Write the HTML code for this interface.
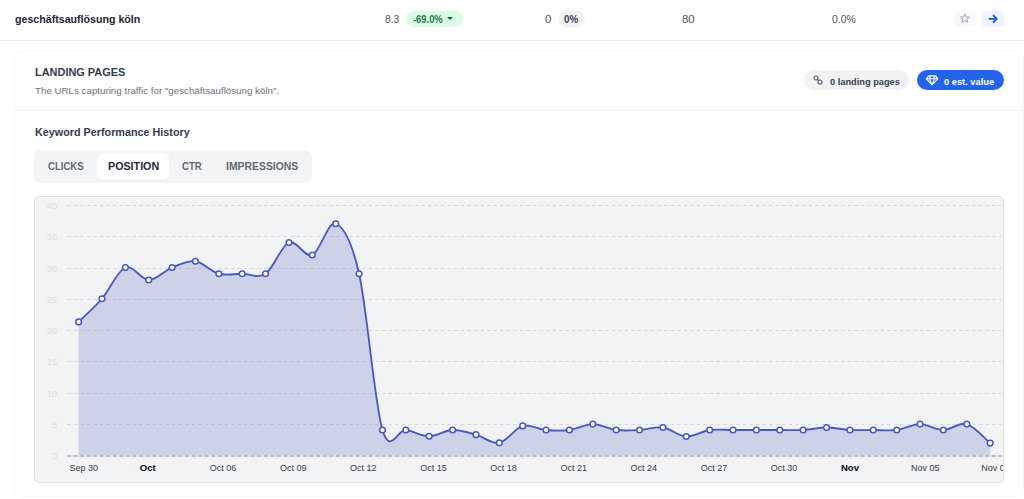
<!DOCTYPE html>
<html><head><meta charset="utf-8">
<style>
*{box-sizing:border-box;margin:0;padding:0}
html,body{width:1024px;height:499px;overflow:hidden;background:#fff}
body{font-family:"Liberation Sans",Arial,sans-serif;position:relative}
.t{position:absolute;white-space:nowrap;transform-origin:0 0}
.row{position:absolute;left:0;top:0;width:1024px;height:41px;border-bottom:1px solid #e8eaee}
.pill{position:absolute;height:16px;border-radius:8px}
.green{left:406px;top:11px;width:57px;background:#dcfce7}
.gray0{left:558px;top:11px;width:27px;background:#f1f2f4}
.tri{position:absolute;left:447px;top:17px;width:0;height:0;border-left:3px solid transparent;border-right:3px solid transparent;border-top:3.5px solid #166534}
.btn{position:absolute;top:11px;width:22px;height:16px;border-radius:4px}
.star{left:954px;background:#f8f9fb}
.arrow{left:982px;background:#edf3ff}
.card{position:absolute;left:14px;top:50px;width:1010px;height:447px;border:1px solid #f6f7f8;border-radius:9px;background:#fff}
.sep{position:absolute;left:15px;top:110px;width:1008px;height:1px;background:#f2f2f3}
.badge{position:absolute;top:70px;height:20px;border-radius:10px}
.b1{left:804px;width:105px;background:#f1f2f4}
.b2{left:917px;width:87px;background:#2563eb}
.tabs{position:absolute;left:34px;top:150px;width:278px;height:33px;border-radius:7px;background:#f3f4f6}
.tabact{position:absolute;left:97px;top:153px;width:72px;height:26.5px;border-radius:6px;background:#fff;box-shadow:0 1px 1px rgba(0,0,0,.03)}
.cbox{position:absolute;left:34px;top:196px;width:970px;height:287px;border:1px solid #dfe1e6;border-radius:5px;background:#f2f3f5;overflow:hidden}
.cbox svg{position:absolute;left:-1px;top:-1px}
</style></head><body>
<div class="row"></div>
<div class="pill green"></div>
<div class="tri"></div>
<div class="pill gray0"></div>
<div class="btn star"><svg width="22" height="16" viewBox="0 0 22 16"><path d="M10.90 2.80 L12.13 5.90 L15.46 6.09 L12.85 8.15 L13.70 11.36 L10.90 9.60 L8.10 11.36 L8.95 8.15 L6.34 6.09 L9.67 5.90Z" fill="none" stroke="#9aa1ad" stroke-width="0.9" stroke-linejoin="round"/></svg></div>
<div class="btn arrow"><svg width="22" height="16" viewBox="0 0 22 16"><path d="M7.6 7.9h6.9M11.5 4.6L14.8 7.9l-3.3 3.3" fill="none" stroke="#2158e8" stroke-width="1.9" stroke-linecap="round" stroke-linejoin="round"/></svg></div>
<div class="card"></div>
<div class="sep"></div>
<div class="badge b1"><svg style="position:absolute;left:9px;top:5px" width="10" height="10" viewBox="0 0 10 10"><g fill="none" stroke="#566070" stroke-width="1.15"><circle cx="3" cy="3" r="2"/><circle cx="7" cy="7" r="2"/><path d="M4.4 4.4l1.2 1.2"/></g></svg></div>
<div class="badge b2"><svg style="position:absolute;left:9px;top:5px" width="13" height="11" viewBox="0 0 13 11"><path d="M2.6 .9H9.6L11.8 3.8 6.1 9.9.4 3.8Z M.4 3.8H11.8 M4.4 .9 3.6 3.8 6.1 9.9 8.6 3.8 7.8 .9" fill="none" stroke="#fff" stroke-width="1.1" stroke-linejoin="round"/></svg></div>
<div class="tabs"></div>
<div class="tabact"></div>
<div class="cbox"><svg class="chart" width="970" height="287" viewBox="0 0 970 287">
<g stroke="#d5d7db" stroke-width="1" stroke-dasharray="3.3 3.26" fill="none"><line x1="33.2" x2="967.5" y1="228.5" y2="228.5"/><line x1="33.2" x2="967.5" y1="197.5" y2="197.5"/><line x1="33.2" x2="967.5" y1="165.5" y2="165.5"/><line x1="33.2" x2="967.5" y1="134.5" y2="134.5"/><line x1="33.2" x2="967.5" y1="103.5" y2="103.5"/><line x1="33.2" x2="967.5" y1="72.5" y2="72.5"/><line x1="33.2" x2="967.5" y1="40.5" y2="40.5"/><line x1="33.2" x2="967.5" y1="9.5" y2="9.5"/></g>
<g fill="#dcdde0" font-size="9.4" text-anchor="end" font-family="Liberation Sans, sans-serif"><text x="23.3" y="263.1">0</text><text x="23.3" y="232.1">5</text><text x="23.3" y="201.1">10</text><text x="23.3" y="169.1">15</text><text x="23.3" y="138.1">20</text><text x="23.3" y="107.1">25</text><text x="23.3" y="76.1">30</text><text x="23.3" y="44.1">35</text><text x="23.3" y="13.1">40</text></g>
<path d="M44.6,125.88C48.5,122.02 60.18,111.81 67.97,102.75C75.76,93.69 83.56,74.62 91.35,71.5C99.14,68.38 106.93,84 114.72,84C122.51,84 130.3,74.62 138.09,71.5C145.88,68.38 153.67,64.21 161.47,65.25C169.26,66.29 177.05,75.67 184.84,77.75C192.63,79.83 200.42,77.75 208.21,77.75C216,77.75 223.79,82.96 231.58,77.75C239.38,72.54 247.17,49.62 254.96,46.5C262.75,43.38 270.54,62.12 278.33,59C286.12,55.88 293.91,24.62 301.7,27.75C309.49,30.88 317.29,43.38 325.08,77.75C332.87,112.12 340.66,207.96 348.45,234C356.24,260.04 364.03,232.96 371.82,234C379.61,235.04 387.4,240.25 395.2,240.25C402.99,240.25 410.78,234.26 418.57,234C426.36,233.74 434.15,236.55 441.94,238.69C449.73,240.82 457.52,248.27 465.31,246.81C473.1,245.35 480.9,232.07 488.69,229.94C496.48,227.8 504.27,233.32 512.06,234C519.85,234.68 527.64,234.99 535.43,234C543.22,233.01 551.01,228.06 558.81,228.06C566.6,228.06 574.39,233.01 582.18,234C589.97,234.99 597.76,234.42 605.55,234C613.34,233.58 621.13,230.41 628.93,231.5C636.72,232.59 644.51,240.15 652.3,240.56C660.09,240.98 667.88,235.09 675.67,234C683.46,232.91 691.25,234 699.04,234C706.84,234 714.63,234 722.42,234C730.21,234 738,234 745.79,234C753.58,234 761.37,234.42 769.16,234C776.95,233.58 784.75,231.5 792.54,231.5C800.33,231.5 808.12,233.58 815.91,234C823.7,234.42 831.49,234 839.28,234C847.07,234 854.86,234.99 862.66,234C870.45,233.01 878.24,228.06 886.03,228.06C893.82,228.06 901.61,234 909.4,234C917.19,234 924.98,225.88 932.77,228.06C940.57,230.25 952.25,243.95 956.15,247.12L956.15,259L44.6,259Z" fill="#3f51b5" fill-opacity="0.2"/>
<line x1="33.2" x2="967.5" y1="260" y2="260" stroke="#d9dadd" stroke-width="1.6"/>
<line x1="33.2" x2="967.5" y1="260" y2="260" stroke="#aeb0b3" stroke-width="1.6" stroke-dasharray="3.4 3.16"/>
<path d="M44.6,125.88C48.5,122.02 60.18,111.81 67.97,102.75C75.76,93.69 83.56,74.62 91.35,71.5C99.14,68.38 106.93,84 114.72,84C122.51,84 130.3,74.62 138.09,71.5C145.88,68.38 153.67,64.21 161.47,65.25C169.26,66.29 177.05,75.67 184.84,77.75C192.63,79.83 200.42,77.75 208.21,77.75C216,77.75 223.79,82.96 231.58,77.75C239.38,72.54 247.17,49.62 254.96,46.5C262.75,43.38 270.54,62.12 278.33,59C286.12,55.88 293.91,24.62 301.7,27.75C309.49,30.88 317.29,43.38 325.08,77.75C332.87,112.12 340.66,207.96 348.45,234C356.24,260.04 364.03,232.96 371.82,234C379.61,235.04 387.4,240.25 395.2,240.25C402.99,240.25 410.78,234.26 418.57,234C426.36,233.74 434.15,236.55 441.94,238.69C449.73,240.82 457.52,248.27 465.31,246.81C473.1,245.35 480.9,232.07 488.69,229.94C496.48,227.8 504.27,233.32 512.06,234C519.85,234.68 527.64,234.99 535.43,234C543.22,233.01 551.01,228.06 558.81,228.06C566.6,228.06 574.39,233.01 582.18,234C589.97,234.99 597.76,234.42 605.55,234C613.34,233.58 621.13,230.41 628.93,231.5C636.72,232.59 644.51,240.15 652.3,240.56C660.09,240.98 667.88,235.09 675.67,234C683.46,232.91 691.25,234 699.04,234C706.84,234 714.63,234 722.42,234C730.21,234 738,234 745.79,234C753.58,234 761.37,234.42 769.16,234C776.95,233.58 784.75,231.5 792.54,231.5C800.33,231.5 808.12,233.58 815.91,234C823.7,234.42 831.49,234 839.28,234C847.07,234 854.86,234.99 862.66,234C870.45,233.01 878.24,228.06 886.03,228.06C893.82,228.06 901.61,234 909.4,234C917.19,234 924.98,225.88 932.77,228.06C940.57,230.25 952.25,243.95 956.15,247.12" fill="none" stroke="#4859c2" stroke-width="1.85" stroke-linejoin="round"/>
<g fill="#fff" stroke="#4859c2" stroke-width="1.5"><circle cx="44.6" cy="125.88" r="2.85"/><circle cx="67.97" cy="102.75" r="2.85"/><circle cx="91.35" cy="71.5" r="2.85"/><circle cx="114.72" cy="84" r="2.85"/><circle cx="138.09" cy="71.5" r="2.85"/><circle cx="161.47" cy="65.25" r="2.85"/><circle cx="184.84" cy="77.75" r="2.85"/><circle cx="208.21" cy="77.75" r="2.85"/><circle cx="231.58" cy="77.75" r="2.85"/><circle cx="254.96" cy="46.5" r="2.85"/><circle cx="278.33" cy="59" r="2.85"/><circle cx="301.7" cy="27.75" r="2.85"/><circle cx="325.08" cy="77.75" r="2.85"/><circle cx="348.45" cy="234" r="2.85"/><circle cx="371.82" cy="234" r="2.85"/><circle cx="395.2" cy="240.25" r="2.85"/><circle cx="418.57" cy="234" r="2.85"/><circle cx="441.94" cy="238.69" r="2.85"/><circle cx="465.31" cy="246.81" r="2.85"/><circle cx="488.69" cy="229.94" r="2.85"/><circle cx="512.06" cy="234" r="2.85"/><circle cx="535.43" cy="234" r="2.85"/><circle cx="558.81" cy="228.06" r="2.85"/><circle cx="582.18" cy="234" r="2.85"/><circle cx="605.55" cy="234" r="2.85"/><circle cx="628.93" cy="231.5" r="2.85"/><circle cx="652.3" cy="240.56" r="2.85"/><circle cx="675.67" cy="234" r="2.85"/><circle cx="699.04" cy="234" r="2.85"/><circle cx="722.42" cy="234" r="2.85"/><circle cx="745.79" cy="234" r="2.85"/><circle cx="769.16" cy="234" r="2.85"/><circle cx="792.54" cy="231.5" r="2.85"/><circle cx="815.91" cy="234" r="2.85"/><circle cx="839.28" cy="234" r="2.85"/><circle cx="862.66" cy="234" r="2.85"/><circle cx="886.03" cy="228.06" r="2.85"/><circle cx="909.4" cy="234" r="2.85"/><circle cx="932.77" cy="228.06" r="2.85"/><circle cx="956.15" cy="247.12" r="2.85"/></g>
<g fill="#373d3f" font-size="9" font-family="Liberation Sans, sans-serif"><text x="35.6" y="275">Sep 30</text><text x="105.72" y="275" font-weight="700" fill="#0b0c10" font-size="9.6">Oct</text><text x="175.84" y="275">Oct 06</text><text x="245.96" y="275">Oct 09</text><text x="316.08" y="275">Oct 12</text><text x="386.2" y="275">Oct 15</text><text x="456.31" y="275">Oct 18</text><text x="526.43" y="275">Oct 21</text><text x="596.55" y="275">Oct 24</text><text x="666.67" y="275">Oct 27</text><text x="736.79" y="275">Oct 30</text><text x="806.91" y="275" font-weight="700" fill="#0b0c10" font-size="9.6">Nov</text><text x="877.03" y="275">Nov 05</text><text x="947.15" y="275">Nov 08</text></g>
</svg></div>
<div class="t" style="left:15.40px;top:11.94px;font-size:11px;line-height:14.3px;font-weight:700;color:#1e2533;transform:scaleX(0.9665);">geschäftsauflösung köln</div>
<div class="t" style="left:384.80px;top:12.14px;font-size:11.2px;line-height:14.56px;font-weight:400;color:#4b5563;transform:scaleX(0.9067);">8.3</div>
<div class="t" style="left:545.00px;top:12.14px;font-size:11.2px;line-height:14.56px;font-weight:400;color:#4b5563;transform:scaleX(1.0167);">0</div>
<div class="t" style="left:682.00px;top:12.14px;font-size:11.2px;line-height:14.56px;font-weight:400;color:#4b5563;transform:scaleX(1.0227);">80</div>
<div class="t" style="left:831.70px;top:12.14px;font-size:11.2px;line-height:14.56px;font-weight:400;color:#4b5563;transform:scaleX(0.9314);">0.0%</div>
<div class="t" style="left:413.20px;top:13.14px;font-size:10px;line-height:13.0px;font-weight:700;color:#217a48;transform:scaleX(0.9373);">-69.0%</div>
<div class="t" style="left:564.00px;top:13.14px;font-size:10.2px;line-height:13.26px;font-weight:700;color:#374151;transform:scaleX(0.9614);">0%</div>
<div class="t" style="left:34.60px;top:64.24px;font-size:11.6px;line-height:15.08px;font-weight:700;color:#333d4d;transform:scaleX(0.9435);">LANDING PAGES</div>
<div class="t" style="left:34.90px;top:84.63px;font-size:9.4px;line-height:12.22px;font-weight:400;color:#6b7280;transform:scaleX(1.0401);">The URLs capturing traffic for "geschäftsauflösung köln".</div>
<div class="t" style="left:829.50px;top:75.83px;font-size:9.8px;line-height:12.74px;font-weight:700;color:#374151;transform:scaleX(0.9439);">0 landing pages</div>
<div class="t" style="left:944.10px;top:75.53px;font-size:9.8px;line-height:12.74px;font-weight:700;color:#ffffff;transform:scaleX(0.9480);">0 est. value</div>
<div class="t" style="left:34.70px;top:124.64px;font-size:11.5px;line-height:14.95px;font-weight:700;color:#333d4d;transform:scaleX(0.9384);">Keyword Performance History</div>
<div class="t" style="left:47.90px;top:159.14px;font-size:11.8px;line-height:15.34px;font-weight:700;color:#5f6877;transform:scaleX(0.8106);">CLICKS</div>
<div class="t" style="left:107.60px;top:159.14px;font-size:11.8px;line-height:15.34px;font-weight:700;color:#1f2937;transform:scaleX(0.9078);">POSITION</div>
<div class="t" style="left:182.30px;top:159.14px;font-size:11.8px;line-height:15.34px;font-weight:700;color:#5f6877;transform:scaleX(0.8089);">CTR</div>
<div class="t" style="left:226.00px;top:159.14px;font-size:11.8px;line-height:15.34px;font-weight:700;color:#5f6877;transform:scaleX(0.8822);">IMPRESSIONS</div>
</body></html>
